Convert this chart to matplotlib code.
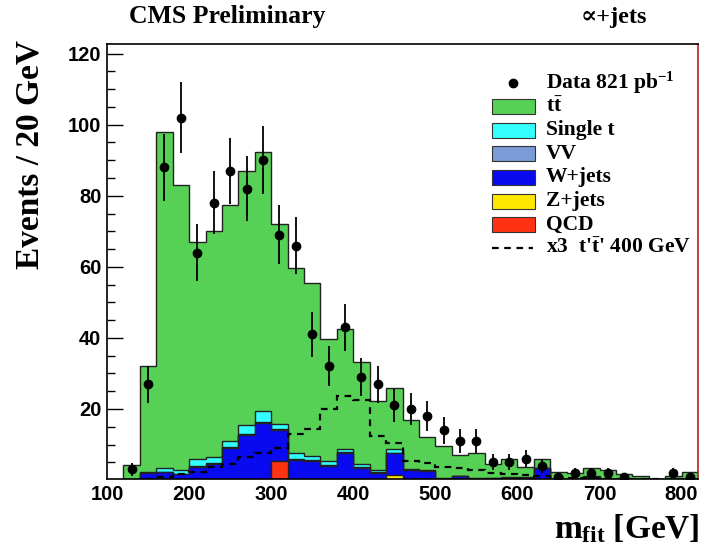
import numpy as np
import matplotlib
matplotlib.use("Agg")
import matplotlib.pyplot as plt
from matplotlib.ticker import MultipleLocator
from matplotlib.patches import Rectangle
from matplotlib.lines import Line2D

plt.rcParams["font.family"] = ["Liberation Sans", "DejaVu Sans"]
plt.rcParams["font.weight"] = "bold"
plt.rcParams["mathtext.fontset"] = "custom"
plt.rcParams["mathtext.rm"] = "Liberation Serif:bold"
plt.rcParams["mathtext.it"] = "Liberation Serif:bold"
plt.rcParams["mathtext.bf"] = "Liberation Serif:bold"

# 20 GeV bins from 120 to 820 GeV
bin_edges = np.arange(120, 840, 20)
bin_centers = bin_edges[:-1] + 10

# stacked backgrounds, events per bin
qcd = [0, 0, 0, 0, 0, 0, 0, 0, 0, 5.4, 0, 0, 0, 0, 0, 0, 0, 0,
       0, 0, 0, 0, 0, 0, 0, 0, 0, 0, 0, 0, 0, 0, 0, 0, 0]
zjets = [0, 0, 0, 0, 0, 0, 0, 0, 0, 0, 0, 0, 0, 0, 0, 0, 1.5, 0,
         0, 0, 0, 0, 0, 0, 0, 0, 0, 0, 0, 0, 0, 0, 0, 0, 0]
wjets = [0.1, 1.9, 2.2, 1.6, 3.8, 4.6, 8.9, 12.8, 16.1, 8.6, 5.6, 5.5,
         4.0, 7.7, 3.5, 2.1, 6.0, 2.8, 2.5, 0.3, 1.1, 0.3, 0.4, 0.6,
         0.6, 3.3, 0.2, 0.2, 0.9, 0.2, 0.2, 0.3, 0.1, 0.2, 0.2]
vv = [0.0, 0.1, 0.1, 0.1, 0.2, 0.2, 0.3, 0.3, 0.3, 0.3, 0.2, 0.2,
      0.2, 0.2, 0.2, 0.1, 0.2, 0.1, 0.1, 0.05, 0.05, 0.05, 0.05, 0.05,
      0.05, 0.05, 0.0, 0.0, 0.05, 0.0, 0.0, 0.0, 0.0, 0.0, 0.0]
single_t = [0.1, 0.3, 1.1, 1.0, 1.8, 1.8, 1.8, 2.4, 2.9, 1.5, 1.9, 1.2,
            1.3, 0.8, 0.7, 0.6, 1.0, 0.1, 0.1, 0.1, 0.1, 0.1, 0.1, 0.1,
            0.1, 0.1, 0.1, 0.1, 0.1, 0.1, 0.1, 0.1, 0.1, 0.1, 0.1]
ttbar = [4.0, 29.7, 94.6, 80.3, 61.2, 63.4, 66.5, 71.5, 73.1, 56.2, 51.9, 48.6,
         34.3, 33.9, 28.8, 19.5, 17.3, 13.9, 9.3, 9.2, 5.8, 7.2, 4.0, 5.2,
         2.9, 2.4, 2.1, 1.7, 2.4, 2.4, 1.3, 0.7, 0.1, 0.9, 1.9]

# t't' 400 GeV signal scaled x3
signal_x3 = [0, 0.3, 0.8, 1.6, 2.3, 3.6, 4.6, 6.5, 7.7, 8.9, 13.0, 14.5,
             19.9, 23.6, 22.5, 12.3, 10.5, 5.3, 4.9, 3.6, 3.3, 2.8, 2.1, 1.7,
             1.4, 1.1, 0.9, 0.7, 0.6, 0.5, 0.4, 0.3, 0.3, 0.2, 0.2]

data = [3, 27, 88, 102, 64, 78, 87, 82, 90, 69, 66, 41, 32, 43, 29, 27, 21, 20,
        18, 14, 11, 11, 5, 5, 6, 4, 1, 2, 2, 2, 1, 0, 0, 2, 1]

labels = ["QCD", "Z+jets", "W+jets", "VV", "Single t", r"$t\bar{t}$"]
colors = ["#ff3311", "#ffe800", "#0a0af0", "#7b9bd6", "#33ffff", "#56d156"]

fig = plt.figure(figsize=(7.04, 5.53), dpi=100)
ax = fig.add_axes([107 / 704, 1 - 479 / 553, 591 / 704, 435 / 553])

layers = np.cumsum([qcd, zjets, wjets, vv, single_t, ttbar], axis=0)
for level, col in reversed(list(zip(layers, colors))):
    ax.stairs(level, bin_edges, baseline=0, fill=True, color=col, lw=0)
    ax.stairs(level, bin_edges, baseline=0, color="#222222", lw=1.0)

ax.stairs(signal_x3, bin_edges, baseline=None, color="black",
          ls=(0, (3, 2.5)), lw=1.6)

data = np.array(data, dtype=float)
has = data > 0
ax.errorbar(bin_centers[has], data[has], yerr=np.sqrt(data[has]), fmt="o",
            color="black", ms=6, elinewidth=1.3, capsize=0)

ax.set_xlim(100, 820)
ax.set_ylim(0.3, 122.7)
ax.set_xticks(range(100, 801, 100))
ax.tick_params(axis="x", length=0, pad=4, labelsize=14.5)
ax.yaxis.set_major_locator(MultipleLocator(20))
ax.yaxis.set_minor_locator(MultipleLocator(5))
ax.tick_params(axis="y", which="major", direction="in", length=11.5,
               width=1, pad=4, labelsize=14.5)
ax.tick_params(axis="y", which="minor", direction="in", length=5.8, width=1)
for s in ax.spines.values():
    s.set_linewidth(1.2)
ax.spines["right"].set_color("#b22222")

serif = ["Liberation Serif", "DejaVu Serif"]
fig.text(30 / 704, 1 - 40 / 553, "Events / 20 GeV", rotation=90,
         ha="center", va="top", family=serif, weight="bold", fontsize=24)
fig.text(700 / 704, 1 - 538 / 553, r"$m_{fit}$ [GeV]", ha="right",
         va="baseline", family=serif, weight="bold", fontsize=24)
fig.text(227 / 704, 1 - 17 / 553, "CMS Preliminary", ha="center",
         va="center", family=serif, weight="bold", fontsize=18.5)
fig.text(614 / 704, 1 - 17 / 553, "\u221d+jets", ha="center",
         va="center", family=serif, weight="bold", fontsize=17.5)

# legend, drawn entry by entry
leg_labels = ["Data 821 pb$^{-1}$", r"$t\bar{t}$", "Single t", "VV",
              "W+jets", "Z+jets", "QCD", r"x3  t'$\bar{t}$' 400 GeV"]
leg_colors = [None] + colors[::-1] + [None]
W, H = 704, 553
for i, (lab, col) in enumerate(zip(leg_labels, leg_colors)):
    yc = 83 + 23.6 * i
    if i == 0:
        fig.add_artist(Line2D([513 / W], [1 - yc / H], marker="o", ms=6,
                              color="black", transform=fig.transFigure))
    elif col is None:
        fig.add_artist(Line2D([492 / W, 533 / W], [1 - yc / H, 1 - yc / H],
                              color="black", ls=(0, (3, 2.5)), lw=1.6,
                              transform=fig.transFigure))
    else:
        fig.add_artist(Rectangle((492 / W, 1 - (yc + 7.5) / H), 43 / W, 15 / H,
                                 facecolor=col, edgecolor="#333333", lw=0.8,
                                 transform=fig.transFigure))
    fig.text(546 / W, 1 - yc / H, lab, ha="left", va="center", family=serif,
             weight="bold", fontsize=15.5)

fig.savefig("out.png", dpi=100)
